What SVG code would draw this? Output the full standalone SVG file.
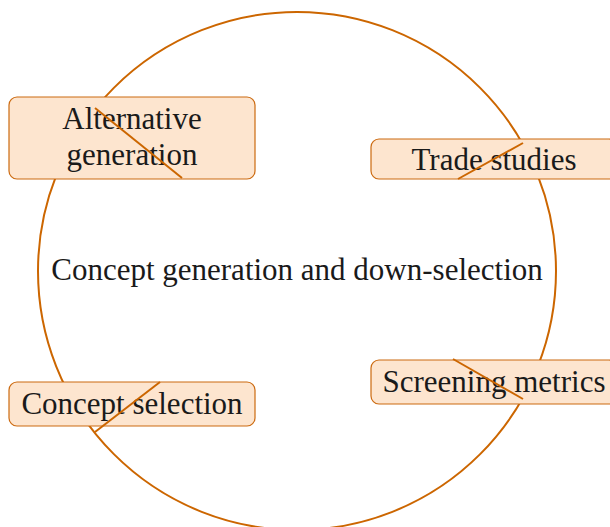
<svg xmlns="http://www.w3.org/2000/svg" width="610" height="527" viewBox="0 0 610 527">
<style>
.box{fill:#fde5cf;stroke:#cc6a10;stroke-width:1.2}
.t{font-family:"Liberation Serif","Times New Roman",serif;font-size:31px;fill:#1a1a1a;text-anchor:middle}
.ring{fill:none;stroke:#cc6600;stroke-width:2}
.ln{stroke:#cc6600;stroke-width:2;fill:none}
</style>
<rect width="610" height="527" fill="#ffffff"/>
<g id="cycle">
<circle class="ring" cx="297" cy="271" r="259"/>
</g>
<g id="center-label">
<text class="t" x="297" y="280">Concept generation and down-selection</text>
</g>
<g id="node-alternative">
<rect class="box" x="9" y="97" width="246" height="82" rx="8"/>
<text class="t" x="132" y="129">Alternative</text>
<text class="t" x="132" y="165">generation</text>
</g>
<g id="node-trade">
<rect class="box" x="371" y="139" width="246" height="40" rx="8"/>
<text class="t" x="494" y="170">Trade studies</text>
</g>
<g id="node-screening">
<rect class="box" x="371" y="360" width="246" height="44" rx="8"/>
<text class="t" x="494" y="392">Screening metrics</text>
</g>
<g id="node-selection">
<rect class="box" x="9" y="382" width="246" height="44" rx="8"/>
<text class="t" x="132" y="414">Concept selection</text>
</g>
<g id="connectors">
<line class="ln" x1="95" y1="108" x2="182" y2="178"/>
<line class="ln" x1="523" y1="143" x2="458" y2="179"/>
<line class="ln" x1="453" y1="359" x2="523" y2="399"/>
<line class="ln" x1="160" y1="382" x2="95" y2="432"/>
</g>
</svg>
